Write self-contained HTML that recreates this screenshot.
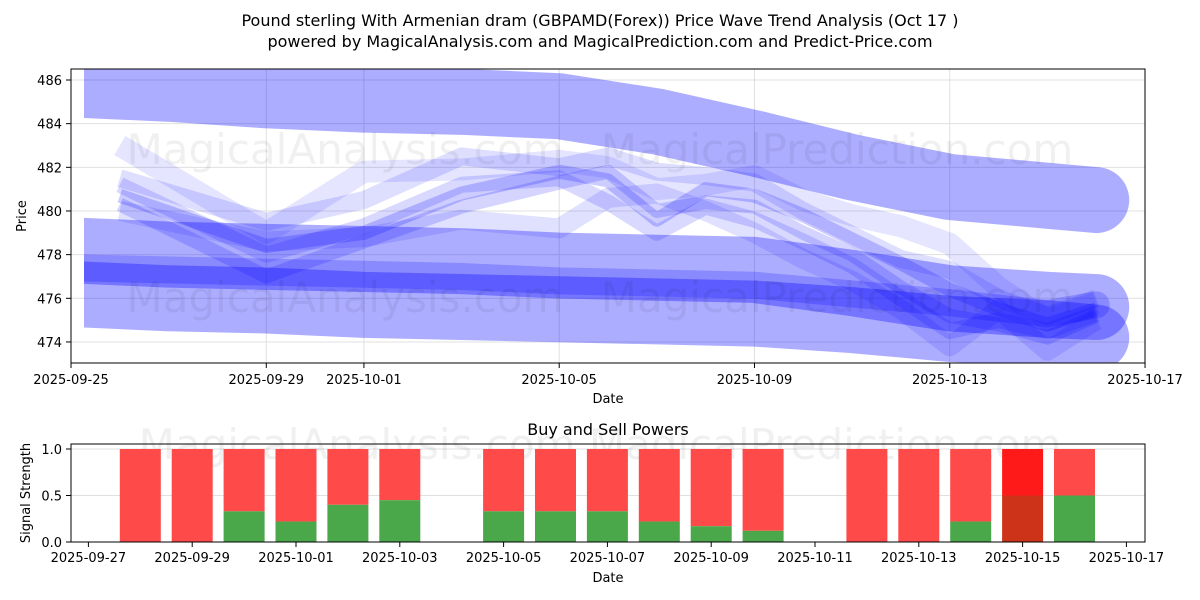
<!DOCTYPE html>
<html><head><meta charset="utf-8"><style>
body{margin:0;background:#fff;}
svg{display:block;font-family:"DejaVu Sans","Liberation Sans",sans-serif;}
</style></head><body>
<svg id="chart" width="1200" height="600" viewBox="0 0 1200 600" xmlns="http://www.w3.org/2000/svg">
<rect width="1200" height="600" fill="#fff"/>
<text x="600" y="26" text-anchor="middle" font-size="16">Pound sterling With Armenian dram (GBPAMD(Forex)) Price Wave Trend Analysis (Oct 17 )</text>
<text x="600" y="47" text-anchor="middle" font-size="16">powered by MagicalAnalysis.com and MagicalPrediction.com and Predict-Price.com</text>
<defs><clipPath id="cp1"><rect x="71" y="69" width="1074" height="294"/></clipPath>
<clipPath id="cp2"><rect x="84" y="69" width="1061" height="294"/></clipPath></defs>
<g id="topPanel"></g>
<g id="botPanel"></g>
</svg>
<script>
// ---- price chart data (days since 2025-09-25) ----
const bandDays = [0, 2, 4, 6, 8, 10, 12, 14, 16, 18, 20, 21];
const bandUpper = [485.8, 485.6, 485.3, 485.1, 485.0, 484.8, 484.1, 483.1, 482.0, 481.1, 480.7, 480.5];
const bandMidA = [478.2, 478.0, 477.9, 477.8, 477.7, 477.5, 477.4, 477.3, 476.7, 476.0, 475.7, 475.6];
const bandMidB = [476.2, 476.0, 475.9, 475.7, 475.6, 475.5, 475.4, 475.3, 475.0, 474.6, 474.4, 474.2];
const bandCore = [477.4, 477.3, 477.2, 477.1, 477.0, 476.8, 476.7, 476.6, 476.2, 475.8, 475.3, 475.7];
const waveDays = [1,4,6,8,10,11,12,13,14,15,16,17,18,19,20,21];
const wave1 = [480.7,478.4,479.0,480.8,481.8,481.4,479.6,481.0,480.7,479.8,478.7,477.6,476.4,475.5,474.8,475.5];
const wave2 = [480.3,477.0,478.6,480.2,481.3,481.8,480.0,480.4,480.2,479.0,478.0,476.5,475.2,474.8,474.2,475.2];
const wave3 = [483.0,479.0,481.8,481.9,482.3,482.0,481.0,481.2,481.6,480.5,479.8,479.3,478.5,476.5,475.0,475.8];
const wave4 = [481.2,478.0,479.3,481.2,481.5,480.4,479.0,480.2,479.6,478.6,477.5,476.0,474.5,475.0,474.5,475.3];
const wave5 = [480.0,478.6,478.8,479.6,479.2,480.6,480.8,480.0,479.0,477.8,476.8,475.5,473.8,475.5,473.6,475.0];
const wave6 = [481.5,479.5,480.5,482.5,482.0,482.5,481.8,481.6,481.3,480.0,478.9,477.8,477.3,476.0,475.2,476.0];
const yTicks = [474,476,478,480,482,484,486];
const xTickDays = [0,4,6,10,14,18,22];
const xTickLabels = ["2025-09-25","2025-09-29","2025-10-01","2025-10-05","2025-10-09","2025-10-13","2025-10-17"];
// ---- signal chart data (days since 2025-09-27) ----
const sigDays = [1,2,3,4,5,6,8,9,10,11,12,13,15,16,17,18,19];
const buyVals = [0,0,0.33,0.22,0.4,0.45,0.33,0.33,0.33,0.22,0.17,0.12,0,0,0.22,0.5,0.5];
const sigTicks = [0,0.5,1.0];
const sigXDays = [0,2,4,6,8,10,12,14,16,18,20];
const sigXLabels = ["2025-09-27","2025-09-29","2025-10-01","2025-10-03","2025-10-05","2025-10-07","2025-10-09","2025-10-11","2025-10-13","2025-10-15","2025-10-17"];

const NS="http://www.w3.org/2000/svg";
function mk(tag,attrs,parent){const e=document.createElementNS(NS,tag);for(const k in attrs)e.setAttribute(k,attrs[k]);parent.appendChild(e);return e;}
const X=d=>71+d*48.82, Y=v=>80+(486-v)*21.83;
const topG=document.getElementById('topPanel');
yTicks.forEach(v=>{const l=mk('line',{x1:71,x2:1145,y1:Y(v),y2:Y(v),stroke:'#e0e0e0','stroke-width':1},topG);

});
xTickDays.forEach(d=>{const l=mk('line',{x1:X(d),x2:X(d),y1:69,y2:363,stroke:'#e0e0e0','stroke-width':1},topG);

});
const g=mk('g',{'clip-path':'url(#cp1)'},topG);
const gb=mk('g',{'clip-path':'url(#cp2)'},g);
[[345,150,'MagicalAnalysis.com'],[837,150,'MagicalPrediction.com'],[345,298,'MagicalAnalysis.com'],[837,298,'MagicalPrediction.com']].forEach(w=>{
const t=mk('text',{x:w[0],y:w[1]+14,'text-anchor':'middle','font-size':42,fill:'#000','fill-opacity':0.06},g);t.textContent=w[2];

});
function poly(par,days,vals,w,op,name,cap){
const p=mk('polyline',{points:days.map((d,i)=>X(d)+','+Y(vals[i])).join(' '),fill:'none',stroke:'#0000ff','stroke-opacity':op,'stroke-width':w,'stroke-linejoin':'round','stroke-linecap':cap||'butt'},par);

}
poly(gb,bandDays,bandUpper,66,0.32,'upper-band','round');
poly(gb,bandDays,bandMidA,66,0.32,'middle-band-a','round');
poly(gb,bandDays,bandMidB,66,0.32,'middle-band-b','round');
poly(gb,bandDays,bandCore,27,0.2,'core-band','round');
poly(g,waveDays,wave3,22,0.1,'wave-3');
poly(g,waveDays,wave5,20,0.12,'wave-5');
poly(g,waveDays,wave6,18,0.13,'wave-6');
poly(g,waveDays,wave4,16,0.15,'wave-4');
poly(g,waveDays,wave2,14,0.17,'wave-2');
poly(g,waveDays,wave1,14,0.2,'wave-1');
mk('rect',{x:71,y:69,width:1074,height:294,fill:'none',stroke:'#000','stroke-width':1},topG);
yTicks.forEach(v=>{mk('line',{x1:66,x2:71,y1:Y(v),y2:Y(v),stroke:'#000'},topG);
const t=mk('text',{x:62,y:Y(v)+5,'text-anchor':'end','font-size':13},topG);t.textContent=v;

});
xTickDays.forEach((d,i)=>{mk('line',{x1:X(d),x2:X(d),y1:363,y2:368,stroke:'#000'},topG);
const t=mk('text',{x:X(d),y:384,'text-anchor':'middle','font-size':13},topG);t.textContent=xTickLabels[i];

});
let tx=mk('text',{x:608,y:403,'text-anchor':'middle','font-size':13},topG);tx.textContent='Date';


tx=mk('text',{x:26,y:216,'text-anchor':'middle','font-size':13,transform:'rotate(-90 26 216)'},topG);tx.textContent='Price';



const botG=document.getElementById('botPanel');
const BX=d=>88.4+d*51.9, BY=v=>542-v*93;
sigTicks.forEach(v=>{const l=mk('line',{x1:71,x2:1145,y1:BY(v),y2:BY(v),stroke:'#e0e0e0'},botG);

});
tx=mk('text',{x:600,y:459,'text-anchor':'middle','font-size':42,'fill-opacity':0.06},botG);tx.textContent='MagicalAnalysis.com                MagicalPrediction.com';


sigDays.forEach((d,i)=>{const b=buyVals[i];const dark=(i===15);
const r=mk('rect',{x:BX(d)-20.5,y:BY(1),width:41,height:BY(b)-BY(1),fill:dark?'#ff1a1a':'#ff4a4a'},botG);


const gr=mk('rect',{x:BX(d)-20.5,y:BY(b),width:41,height:BY(0)-BY(b),fill:dark?'#cc3319':'#4aa84a'},botG);

});
mk('rect',{x:71,y:444,width:1074,height:98,fill:'none',stroke:'#000'},botG);
sigTicks.forEach(v=>{mk('line',{x1:66,x2:71,y1:BY(v),y2:BY(v),stroke:'#000'},botG);
const tt=mk('text',{x:62,y:BY(v)+5,'text-anchor':'end','font-size':13},botG);tt.textContent=v.toFixed(1);

});
sigXDays.forEach((d,i)=>{mk('line',{x1:BX(d),x2:BX(d),y1:542,y2:547,stroke:'#000'},botG);
const tt=mk('text',{x:BX(d),y:562,'text-anchor':'middle','font-size':13},botG);tt.textContent=sigXLabels[i];

});
tx=mk('text',{x:608,y:435,'text-anchor':'middle','font-size':16},botG);tx.textContent='Buy and Sell Powers';


tx=mk('text',{x:608,y:582,'text-anchor':'middle','font-size':13},botG);tx.textContent='Date';


tx=mk('text',{x:30,y:493,'text-anchor':'middle','font-size':13,transform:'rotate(-90 30 493)'},botG);tx.textContent='Signal Strength';


</script>
</body></html>
